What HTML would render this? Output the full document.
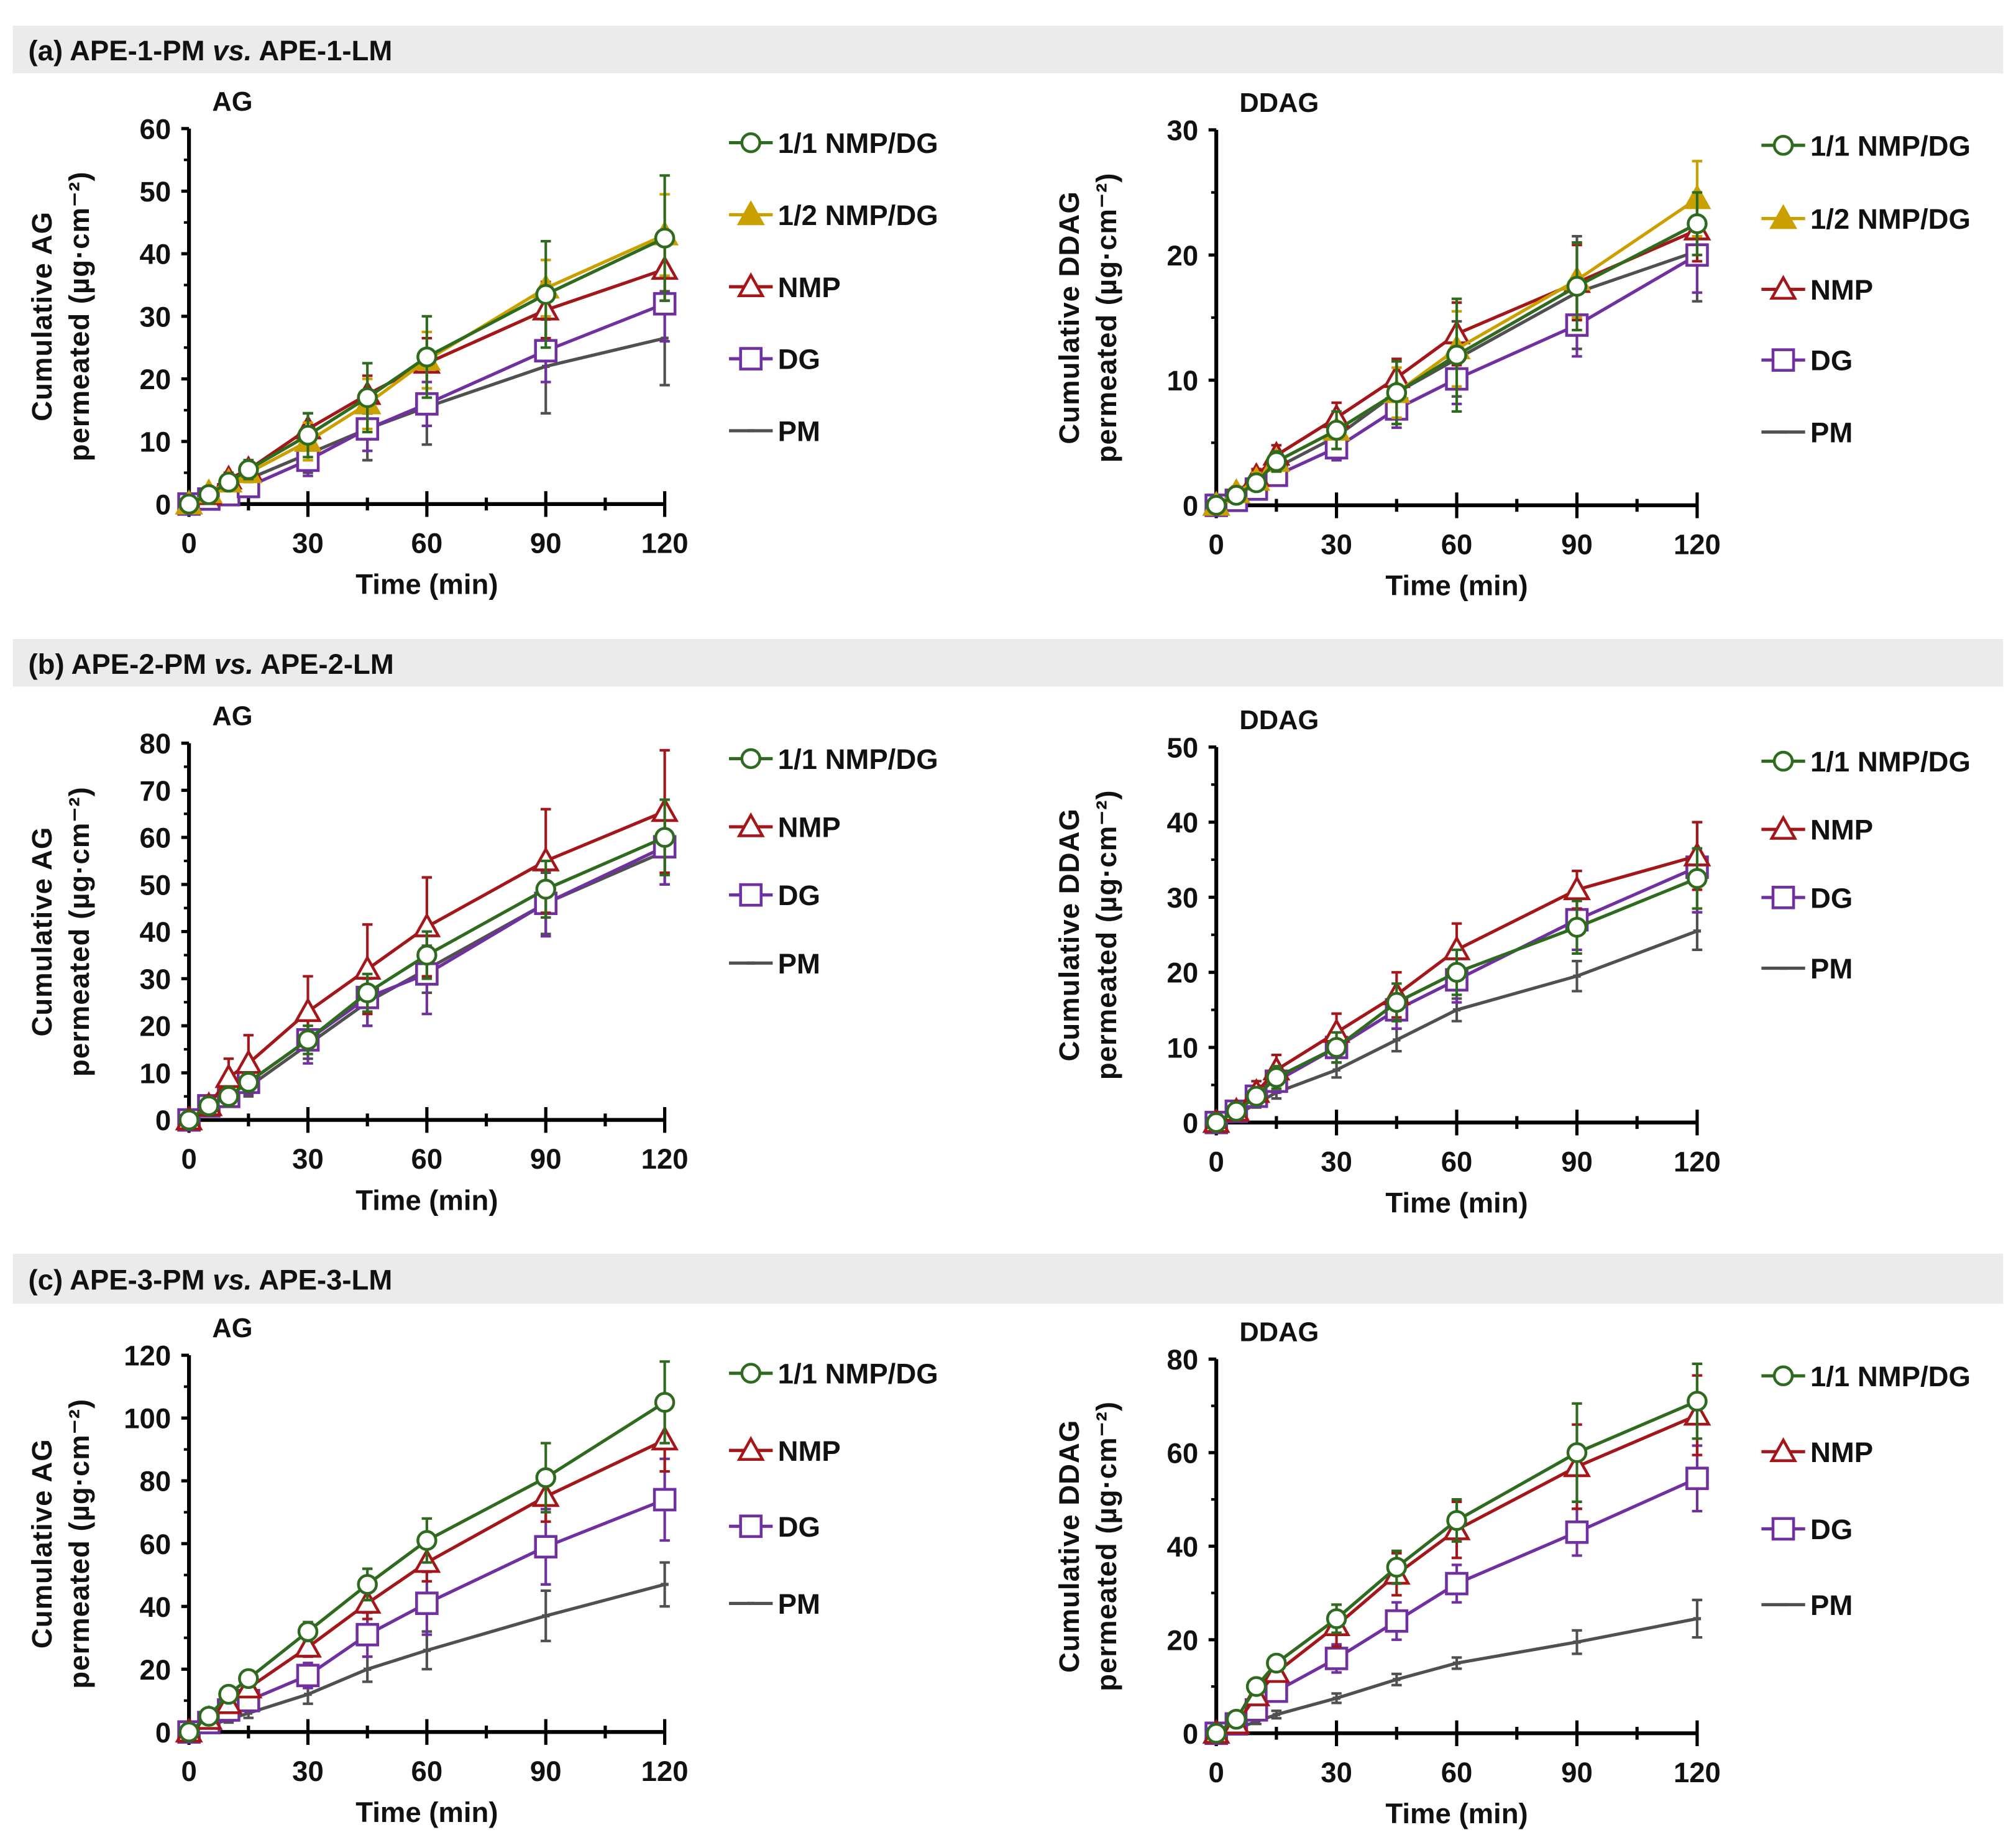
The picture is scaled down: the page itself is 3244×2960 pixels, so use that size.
<!DOCTYPE html>
<html><head><meta charset="utf-8">
<style>
html,body{margin:0;padding:0;background:#fff;}
svg{display:block;}
text{font-family:"Liberation Sans",sans-serif;font-weight:bold;fill:#111;}
.narrow{font-family:"Liberation Sans Narrow","Liberation Sans",sans-serif;}
</style></head>
<body>
<svg id="fig" width="3244" height="2960" viewBox="0 0 1568 1431" preserveAspectRatio="none" xmlns="http://www.w3.org/2000/svg">
<rect x="10" y="20" width="1548" height="37" fill="#ebebeb"/>
<text x="22" y="47" font-size="22">(a) APE-1-PM <tspan font-style="italic">vs.</tspan> APE-1-LM</text>
<rect x="10" y="497" width="1548" height="37" fill="#ebebeb"/>
<text x="22" y="524" font-size="22">(b) APE-2-PM <tspan font-style="italic">vs.</tspan> APE-2-LM</text>
<rect x="10" y="975" width="1548" height="39" fill="#ebebeb"/>
<text x="22" y="1003" font-size="22">(c) APE-3-PM <tspan font-style="italic">vs.</tspan> APE-3-LM</text>
</svg>
<script>
const times = [0,5,10,15,30,45,60,90,120];
const xTicks = [0,30,60,90,120];
// Panel a AG
const aAG_11 = [0,1.5,3.5,5.5,11,17,23.5,33.5,42.5];
const aAG_11e = [0,1,1,1.5,3.5,5.5,6.5,8.5,10];
const aAG_12 = [0,1.8,3.5,5,10,16,23,34.5,43];
const aAG_12e = [0,1,1,1.5,3,4,4.5,4.5,6.5];
const aAG_N = [0,1.5,4,5.5,12,17.5,22.5,31,37.5];
const aAG_Ne = [0,1,1,1.5,2.5,3,4,4.5,5];
const aAG_D = [0,0.8,1.5,2.8,7,12,16,24.5,32];
const aAG_De = [0,0.5,1,1.5,2.5,3.5,3.5,5,6];
const aAG_P = [0,1,2.5,4,8,12,15.5,22,26.5];
const aAG_Pe = [0,0.5,1,1.5,3,5,6,7.5,7.5];
const aAG_ticks = [0,10,20,30,40,50,60];
// Panel a DDAG
const aDD_11 = [0,0.8,1.8,3.5,6,9,12,17.5,22.5];
const aDD_11e = [0,0.5,0.6,0.8,1.5,2.5,4.5,3.5,2.5];
const aDD_12 = [0,1,2,3.5,6,9,12.5,18,24.5];
const aDD_12e = [0,0.5,0.6,0.8,1.5,2,3,3,3];
const aDD_N = [0,1,2.3,4,7,10.2,13.7,17.8,22];
const aDD_Ne = [0,0.5,0.6,0.8,1.2,1.5,2.5,3,2.5];
const aDD_D = [0,0.4,1.3,2.4,4.6,7.7,10.1,14.4,20];
const aDD_De = [0,0.4,0.5,0.6,1,1.5,2,2.5,3];
const aDD_P = [0,0.5,1.5,3,5.5,9,11.7,17,20.3];
const aDD_Pe = [0,0.3,0.5,0.8,1.5,2.5,3,4.5,4];
const aDD_ticks = [0,10,20,30];
// Panel b AG
const bAG_11 = [0,3,5,8,17,27,35,49,60];
const bAG_11e = [0,1,2,2,3,4,5,6,8];
const bAG_N = [0,3,9,12,23,32,41,55,65.5];
const bAG_Ne = [0,2,4,6,7.5,9.5,10.5,11,13];
const bAG_D = [0,3,5,8,17,26,31,46,58];
const bAG_De = [0,1,2,2.5,5,6,8.5,7,8];
const bAG_P = [0,3,5,7,16,25,32,46,57];
const bAG_Pe = [0,1,1.5,2,3,5,5,6.5,7];
const bAG_ticks = [0,10,20,30,40,50,60,70,80];
// Panel b DDAG
const bDD_11 = [0,1.5,3.5,6,10,16,20,26,32.5];
const bDD_11e = [0,0.5,1,1.5,2,2.5,3,3.5,4];
const bDD_N = [0,1.5,4,7,12,17,23,31,35.5];
const bDD_Ne = [0,0.8,1.5,2,2.5,3,3.5,2.5,4.5];
const bDD_D = [0,1.5,3.5,5.5,10,15,19,27,34];
const bDD_De = [0,0.5,1,1.5,2,2.5,3,4,6];
const bDD_P = [0,1,2.5,4,7,11,15,19.5,25.5];
const bDD_Pe = [0,0.3,0.5,0.8,1,1.5,1.5,2,2.5];
const bDD_ticks = [0,10,20,30,40,50];
// Panel c AG
const cAG_11 = [0,5,12,17,32,47,61,81,105];
const cAG_11e = [0,1.5,2,2.5,3,5,7,11,13];
const cAG_N = [0,4,9,14,27,41,54,75,93];
const cAG_Ne = [0,1.5,2,2.5,3,5,6,8,10];
const cAG_D = [0,3,7,10,18,31,41,59,74];
const cAG_De = [0,1,2,2.5,4,7,10,12,13];
const cAG_P = [0,2,4,6,12,20,26,37,47];
const cAG_Pe = [0,0.5,1,1.5,3,4,6,8,7];
const cAG_ticks = [0,20,40,60,80,100,120];
// Panel c DDAG
const cDD_11 = [0,3,10,15,24.5,35.5,45.5,60,71];
const cDD_11e = [0,1,1.5,1.5,3,3.5,4.5,10.5,8];
const cDD_N = [0,2,8,13,23,34,43.5,57,68];
const cDD_Ne = [0,1,1.5,1.5,4.5,4.5,6,9,8.5];
const cDD_D = [0,2,5,9,16,24,32,43,54.5];
const cDD_De = [0,1,1.5,2,3,4,4,5,7];
const cDD_P = [0,1,2.5,4,7.5,11.5,15,19.5,24.5];
const cDD_Pe = [0,0.3,0.5,0.8,1,1.2,1.2,2.5,4];
const cDD_ticks = [0,20,40,60,80];

const NS = "http://www.w3.org/2000/svg";
const svg = document.getElementById('fig');
const COL = {g:'#2f6b1e', y:'#c9a000', r:'#a3161a', p:'#7030a0', k:'#505050'};

function el(tag, attrs, parent){
  const e = document.createElementNS(NS, tag);
  for (const k in attrs) e.setAttribute(k, attrs[k]);
  (parent||svg).appendChild(e);
  return e;
}
function marker(g, kind, x, y, c){
  let m;
  if (kind==='circle') m = el('circle',{cx:x,cy:y,r:7,fill:'#fff',stroke:c,'stroke-width':2.2},g);
  else if (kind==='tri' || kind==='trif') m = el('polygon',{points:`${x},${y-9} ${x-9},${y+7} ${x+9},${y+7}`,fill:kind==='trif'?c:'#fff',stroke:c,'stroke-width':2.2},g);
  else if (kind==='square') m = el('rect',{x:x-8,y:y-8,width:16,height:16,fill:'#fff',stroke:c,'stroke-width':2.2},g);
  else m = el('line',{x1:x-3,y1:y,x2:x+3,y2:y,stroke:c,'stroke-width':2.5},g);
  
  
  return m;
}

function panel(cfg){
  const {id, x0, x1, y0, y1, ticks, ymax, series, legendX, legendY, title, ytitle} = cfg;
  const g = el('g',{});
  
  
  const X = v => x0 + (v/120)*(x1-x0);
  const Y = v => y0 - (v/ymax)*(y0-y1);
  const ax = el('line',{x1:x0,y1:y0,x2:x1,y2:y0,stroke:'#000','stroke-width':3},g);
  
  
  const ay = el('line',{x1:x0,y1:y0+1.5,x2:x0,y2:y1,stroke:'#000','stroke-width':3},g);
  
  
  for (let t=0;t<=120;t+=15){
    const major = t%30===0;
    el('line',{x1:X(t),y1:y0-(major?10:5),x2:X(t),y2:y0+(major?10:5),stroke:'#000','stroke-width':2.5},g);
  }
  xTicks.forEach(t=>{
    const tx = el('text',{x:X(t),y:y0+38,'font-size':22,'text-anchor':'middle',class:'narrow'},g);
    tx.textContent = t;
    
    
  });
  const step = ticks[1]-ticks[0];
  for (let i=0;i<ticks.length;i++){
    const t = ticks[i];
    el('line',{x1:x0-6,y1:Y(t),x2:x0,y2:Y(t),stroke:'#000','stroke-width':2.5},g);
    if (i<ticks.length-1) el('line',{x1:x0-4,y1:Y(t+step/2),x2:x0,y2:Y(t+step/2),stroke:'#000','stroke-width':2},g);
    const ty = el('text',{x:x0-14,y:Y(t)+8,'font-size':22,'text-anchor':'end',class:'narrow'},g);
    ty.textContent = t;
    
    
  }
  const xt = el('text',{x:(x0+x1)/2,y:y0+70,'font-size':22,'text-anchor':'middle',class:'narrow'},g);
  xt.textContent = 'Time (min)';
  
  
  const tt = el('text',{x:x0+18,y:y1-14,'font-size':21,class:'narrow'},g);
  tt.textContent = title;
  
  
  const cy = (y0+y1)/2;
  const yt1 = el('text',{x:0,y:0,'font-size':22,'text-anchor':'middle','letter-spacing':'0.5',transform:`translate(${x0-107},${cy}) rotate(-90)`},g);
  yt1.textContent = 'Cumulative '+ytitle;
  
  
  const yt2 = el('text',{x:0,y:0,'font-size':22,'text-anchor':'middle','letter-spacing':'0.5',transform:`translate(${x0-78},${cy}) rotate(-90)`},g);
  yt2.textContent = 'permeated (\u00b5g\u00b7cm\u207b\u00b2)';
  
  
  series.slice().reverse().forEach(s=>{
    const sg = el('g',{},g);
    
    
    s.vals.forEach((v,i)=>{
      const e = s.err[i]; if (!e) return;
      const x = X(times[i]);
      el('line',{x1:x,y1:Y(v-e),x2:x,y2:Y(v+e),stroke:s.c,'stroke-width':2},sg);
      el('line',{x1:x-4,y1:Y(v+e),x2:x+4,y2:Y(v+e),stroke:s.c,'stroke-width':2},sg);
      el('line',{x1:x-4,y1:Y(v-e),x2:x+4,y2:Y(v-e),stroke:s.c,'stroke-width':2},sg);
    });
    const ln = el('polyline',{points:s.vals.map((v,i)=>X(times[i])+','+Y(v)).join(' '),fill:'none',stroke:s.c,'stroke-width':2.5},sg);
    
    
    s.vals.forEach((v,i)=>marker(sg,s.m,X(times[i]),Y(v),s.c));
  });
  series.forEach((s,i)=>{
    const ly = legendY[i];
    const lg = el('g',{},g);
    
    
    el('line',{x1:legendX,y1:ly,x2:legendX+34,y2:ly,stroke:s.c,'stroke-width':2.5},lg);
    marker(lg,s.m,legendX+17,ly,s.c);
    const lt = el('text',{x:legendX+38,y:ly+8,'font-size':22,class:'narrow'},lg);
    lt.textContent = s.label;
  });
}
function S(key,label,vals,err,c,m){return {key,label,vals,err,c,m};}

panel({id:'chart-a-ag',x0:147,x1:517,y0:392,y1:100,ticks:aAG_ticks,ymax:60,title:'AG',ytitle:'AG',legendX:567,legendY:[111,167,223,279,335],
 series:[S('11','1/1 NMP/DG',aAG_11,aAG_11e,COL.g,'circle'),S('12','1/2 NMP/DG',aAG_12,aAG_12e,COL.y,'trif'),S('nmp','NMP',aAG_N,aAG_Ne,COL.r,'tri'),S('dg','DG',aAG_D,aAG_De,COL.p,'square'),S('pm','PM',aAG_P,aAG_Pe,COL.k,'dash')]});
panel({id:'chart-a-ddag',x0:946,x1:1320,y0:393,y1:101,ticks:aDD_ticks,ymax:30,title:'DDAG',ytitle:'DDAG',legendX:1370,legendY:[113,170,225,280,336],
 series:[S('11','1/1 NMP/DG',aDD_11,aDD_11e,COL.g,'circle'),S('12','1/2 NMP/DG',aDD_12,aDD_12e,COL.y,'trif'),S('nmp','NMP',aDD_N,aDD_Ne,COL.r,'tri'),S('dg','DG',aDD_D,aDD_De,COL.p,'square'),S('pm','PM',aDD_P,aDD_Pe,COL.k,'dash')]});
panel({id:'chart-b-ag',x0:147,x1:517,y0:871,y1:578,ticks:bAG_ticks,ymax:80,title:'AG',ytitle:'AG',legendX:567,legendY:[590,643,696,749],
 series:[S('11','1/1 NMP/DG',bAG_11,bAG_11e,COL.g,'circle'),S('nmp','NMP',bAG_N,bAG_Ne,COL.r,'tri'),S('dg','DG',bAG_D,bAG_De,COL.p,'square'),S('pm','PM',bAG_P,bAG_Pe,COL.k,'dash')]});
panel({id:'chart-b-ddag',x0:946,x1:1320,y0:873,y1:581,ticks:bDD_ticks,ymax:50,title:'DDAG',ytitle:'DDAG',legendX:1370,legendY:[592,645,698,753],
 series:[S('11','1/1 NMP/DG',bDD_11,bDD_11e,COL.g,'circle'),S('nmp','NMP',bDD_N,bDD_Ne,COL.r,'tri'),S('dg','DG',bDD_D,bDD_De,COL.p,'square'),S('pm','PM',bDD_P,bDD_Pe,COL.k,'dash')]});
panel({id:'chart-c-ag',x0:147,x1:517,y0:1347,y1:1054,ticks:cAG_ticks,ymax:120,title:'AG',ytitle:'AG',legendX:567,legendY:[1068,1128,1187,1247],
 series:[S('11','1/1 NMP/DG',cAG_11,cAG_11e,COL.g,'circle'),S('nmp','NMP',cAG_N,cAG_Ne,COL.r,'tri'),S('dg','DG',cAG_D,cAG_De,COL.p,'square'),S('pm','PM',cAG_P,cAG_Pe,COL.k,'dash')]});
panel({id:'chart-c-ddag',x0:946,x1:1320,y0:1348,y1:1057,ticks:cDD_ticks,ymax:80,title:'DDAG',ytitle:'DDAG',legendX:1370,legendY:[1070,1129,1189,1248],
 series:[S('11','1/1 NMP/DG',cDD_11,cDD_11e,COL.g,'circle'),S('nmp','NMP',cDD_N,cDD_Ne,COL.r,'tri'),S('dg','DG',cDD_D,cDD_De,COL.p,'square'),S('pm','PM',cDD_P,cDD_Pe,COL.k,'dash')]});
</script>
</body></html>
